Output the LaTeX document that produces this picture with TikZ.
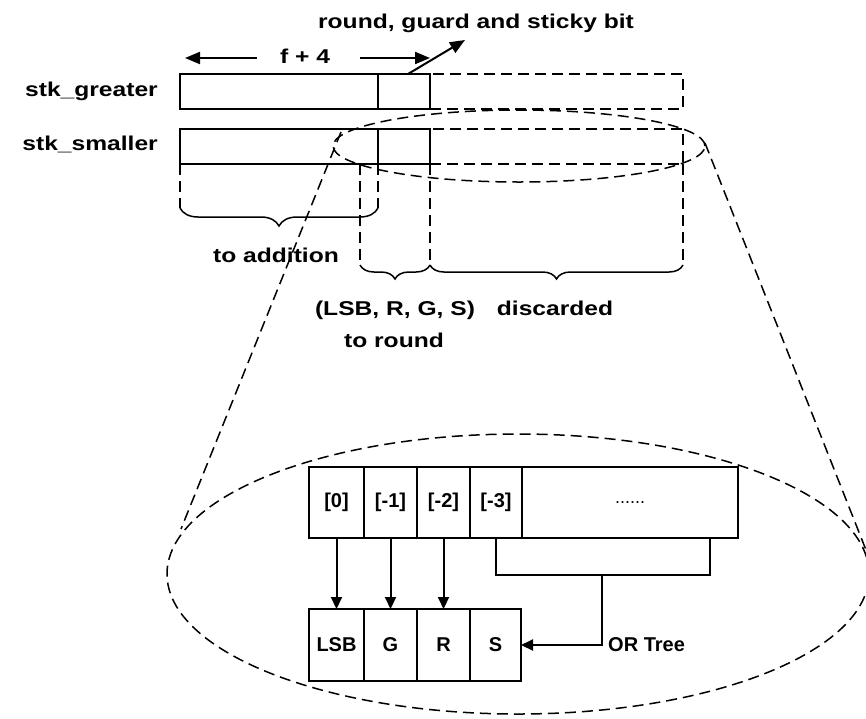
\documentclass[tikz,border=0pt]{standalone}
\usepackage{fontspec}
\setmainfont{Liberation Sans}
\newfontfamily\widefont{Liberation Sans}[FakeStretch=1.23]
\usetikzlibrary{arrows.meta,decorations.pathreplacing}
\begin{document}
\begin{tikzpicture}[x=1pt,y=-1pt,
  solidbox/.style={draw, line width=1.7pt, inner sep=0pt, outer sep=0pt, anchor=north west},
  dashbox/.style={draw, line width=1.5pt, dash pattern=on 11pt off 6pt, inner sep=0pt, outer sep=0pt, anchor=north west},
  dashline/.style={line width=1.5pt, dash pattern=on 11pt off 6pt},
  wire/.style={line width=1.8pt},
  arr/.style={line width=2pt, -{Triangle[length=12pt,width=11pt]}},
  bigarr/.style={line width=2pt, -{Triangle[length=15pt,width=12pt]}},
  brc/.style={line width=1.5pt, decorate, decoration={brace, mirror, amplitude=#1}},
  uptext/.style={font=\widefont\bfseries\fontsize{20}{24}\selectfont, inner sep=0pt},
  lowtext/.style={font=\bfseries\fontsize{20}{24}\selectfont},
]
\useasboundingbox (0,0) rectangle (866,718);

% ---- labels ----
\node[uptext, anchor=base] (rgs) at (476,28) {round, guard and sticky bit};
\node[uptext, anchor=base] (f4) at (305,63) {f + 4};
\node[uptext, anchor=base east] (lg) at (158,96) {stk\_greater};
\node[uptext, anchor=base east] (ls) at (158,150) {stk\_smaller};

% ---- stk_greater ----
\node[dashbox, minimum width=253pt, minimum height=35pt] (gC) at (430,74) {};
\node[solidbox, minimum width=198pt, minimum height=35pt] (gA) at (180,74) {};
\node[solidbox, minimum width=52pt, minimum height=35pt] (gB) at (378,74) {};

% ---- stk_smaller ----
\node[dashbox, minimum width=253pt, minimum height=35pt] (sC) at (430,129) {};
\node[solidbox, minimum width=198pt, minimum height=35pt] (sA) at (180,129) {};
\node[solidbox, minimum width=52pt, minimum height=35pt] (sB) at (378,129) {};

% ---- f+4 arrows ----
\coordinate (fL) at (185,58);
\coordinate (fLs) at (257,58);
\coordinate (fRs) at (360,58);
\coordinate (fR) at (430,58);
\draw[bigarr] (fLs) -- (fL);
\draw[bigarr] (fRs) -- (fR);
\coordinate (rgsTip) at (465,40);
\draw[bigarr] (gB.north -| 408,0) -- (rgsTip);

% ---- brace guides ----
\coordinate (b1L) at (180,208);
\coordinate (b1R) at (378,208);
\coordinate (b2L) at (360,265);
\coordinate (b2M) at (430,265);
\coordinate (b2R) at (683,265);
\draw[dashline] (sA.south west) -- (b1L);
\draw[dashline] (sA.south east) -- (b1R);
\draw[dashline] (b2L |- sA.south) -- (b2L);
\draw[dashline] (sB.south east) -- (b2M);
\draw[dashline] (sC.south east) -- (b2R);

\draw[brc=18pt] (b1L) -- (b1R);
\draw[brc=14pt] (b2L) -- (b2M);
\draw[brc=14pt] (b2M) -- (b2R);

\node[uptext, anchor=base] (toadd) at (276,262) {to addition};
\node[uptext, anchor=base] (lrgs) at (395,315) {(LSB, R, G, S)};
\node[uptext, anchor=base] (tornd) at (394,347) {to round};
\node[uptext, anchor=base] (disc) at (555,315) {discarded};

% ---- magnifier ellipses and cone ----
\draw[dashline] (519,146) ellipse [x radius=186pt, y radius=36pt];
\draw[dashline] (518,574) ellipse [x radius=351pt, y radius=140pt];
\coordinate (coneLt) at (341,132);
\coordinate (coneLb) at (181,529);
\coordinate (coneRt) at (705,143);
\coordinate (coneRb) at (866,550);
\draw[dashline] (coneLt) -- (coneLb);
\draw[dashline] (coneRt) -- (coneRb);

% ---- zoomed bits ----
\node[solidbox, lowtext, minimum width=55pt, minimum height=71pt] (c0) at (309,467) {[0]};
\node[solidbox, lowtext, minimum width=53pt, minimum height=71pt] (c1) at (364,467) {[-1]};
\node[solidbox, lowtext, minimum width=53pt, minimum height=71pt] (c2) at (417,467) {[-2]};
\node[solidbox, lowtext, minimum width=52pt, minimum height=71pt] (c3) at (470,467) {[-3]};
\node[solidbox, font=\fontsize{18}{20}\selectfont, minimum width=216pt, minimum height=71pt] (cD) at (522,467) {......};

\node[solidbox, lowtext, minimum width=55pt, minimum height=72pt] (bL) at (309,609) {LSB};
\node[solidbox, lowtext, minimum width=53pt, minimum height=72pt] (bG) at (364,609) {G};
\node[solidbox, lowtext, minimum width=53pt, minimum height=72pt] (bR) at (417,609) {R};
\node[solidbox, lowtext, minimum width=51pt, minimum height=72pt] (bS) at (470,609) {S};

\draw[arr] (c0.south) -- (bL.north);
\draw[arr] (c1.south) -- (bG.north);
\draw[arr] (c2.south) -- (bR.north);

\coordinate (orM) at (602,575);
\coordinate (orR) at (710,575);
\draw[wire] (c3.south) -- (c3.south |- orM) -- (orR) -- (orR |- cD.south);
\draw[arr] (orM) |- (bS.east);
\node[lowtext, anchor=west, inner sep=0pt] (ort) at (608,645) {OR Tree};
\end{tikzpicture}
\end{document}
